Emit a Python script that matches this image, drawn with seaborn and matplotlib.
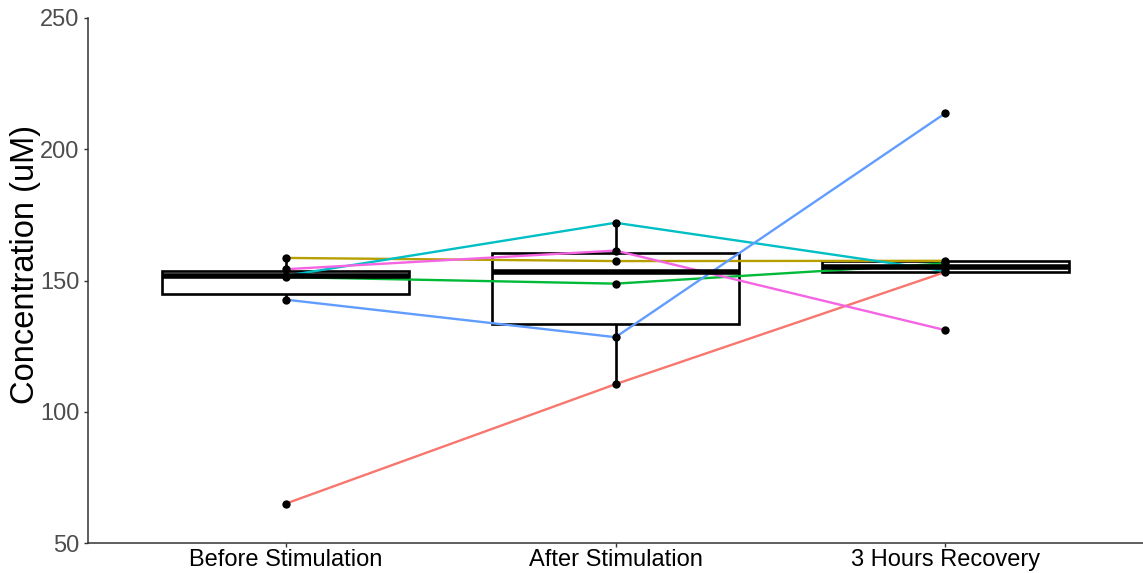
import matplotlib
matplotlib.use("Agg")
import matplotlib.pyplot as plt
import seaborn as sns
import pandas as pd

# Time points and per-subject concentrations (uM)
timepoints = ["Before Stimulation", "After Stimulation", "3 Hours Recovery"]
subjects = ["S1", "S2", "S3", "S4", "S5", "S6"]
before = [65.0, 158.6, 151.3, 151.8, 142.7, 154.3]
after = [110.5, 157.4, 148.8, 172.0, 128.4, 161.4]
recovery = [153.2, 157.5, 156.5, 153.6, 213.7, 131.1]
subject_colors = ["#F8766D", "#B79F00", "#00BA38", "#00BFC4", "#619CFF", "#F564E3"]
y_ticks = [50, 100, 150, 200, 250]

rows = []
for tp, vals in zip(timepoints, [before, after, recovery]):
    for s, v in zip(subjects, vals):
        rows.append({"time": tp, "subject": s, "conc": v})
df = pd.DataFrame(rows)

sns.set_theme(style="white")
plt.rcParams["font.family"] = ["Liberation Sans", "DejaVu Sans"]

fig = plt.figure(figsize=(11.43, 5.73), dpi=100)
ax = fig.add_axes([88 / 1143, 30 / 573, 1055 / 1143, 525 / 573])

sns.boxplot(
    data=df, x="time", y="conc", order=timepoints, ax=ax,
    color="white", linecolor="black", linewidth=1.9, width=0.75,
    showfliers=False, showcaps=False, whis=1.5,
    medianprops=dict(linewidth=4, color="black"),
    boxprops=dict(facecolor="white", edgecolor="black"),
)

sns.pointplot(
    data=df, x="time", y="conc", hue="subject", order=timepoints,
    hue_order=subjects, palette=subject_colors, errorbar=None,
    dodge=False, markers="o", markersize=0, linewidth=1.7,
    legend=False, ax=ax,
)

sns.stripplot(
    data=df, x="time", y="conc", order=timepoints, color="black",
    jitter=False, size=6, zorder=10, ax=ax,
)

ax.set_xlim(-0.6, 2.6)
ax.set_ylim(50, 250)
ax.set_yticks(y_ticks)
ax.set_xlabel("")
ax.set_ylabel("Concentration (uM)", fontsize=23.5, color="black")
ax.yaxis.set_label_coords(-0.045, 0.53)

for side in ["top", "right"]:
    ax.spines[side].set_visible(False)
for side in ["left", "bottom"]:
    ax.spines[side].set_color("#333333")
    ax.spines[side].set_linewidth(1.1)

ax.tick_params(axis="y", labelsize=17, labelcolor="#4D4D4D", length=3,
               width=1.0, color="#333333", left=True, pad=3)
ax.tick_params(axis="x", labelsize=17, labelcolor="black", length=3,
               width=1.0, color="#333333", bottom=True, pad=1)
ax.grid(False)

fig.savefig("out.png", dpi=100)
